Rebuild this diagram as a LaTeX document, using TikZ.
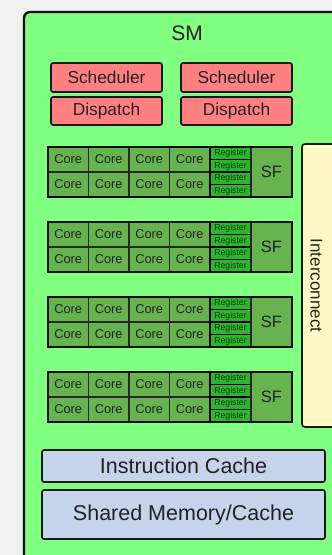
\documentclass[tikz,border=0pt]{standalone}
\usepackage{fontspec}
\setmainfont{Liberation Sans}
\definecolor{bg}{HTML}{F0F0F0}
\definecolor{smgreen}{HTML}{80FF80}
\definecolor{schedred}{HTML}{FF8080}
\definecolor{coregreen}{HTML}{66B34F}
\definecolor{reggreen}{HTML}{2DB52D}
\definecolor{regtext}{HTML}{0F3F0F}
\definecolor{cacheblue}{HTML}{C5D4EA}
\definecolor{icyellow}{HTML}{FFF8C4}
\definecolor{txt}{HTML}{222222}
\tikzset{
  redbox/.style={draw=black!90, line width=1.6pt, fill=schedred, rounded corners=2pt,
    minimum width=111pt, inner sep=0pt, text=txt, font=\fontsize{17.3}{20}\selectfont},
  core/.style={draw=black!85, line width=1.3pt, fill=coregreen, minimum width=40.5pt,
    minimum height=25pt, inner sep=0pt, text=txt, font=\fontsize{12.8}{14}\selectfont},
  reg/.style={draw=black, line width=1.6pt, fill=reggreen, minimum width=41pt,
    minimum height=12.5pt, inner sep=0pt, text=regtext, font=\fontsize{8.7}{9}\selectfont},
  sfbox/.style={draw=black!85, line width=1.3pt, fill=coregreen, minimum width=41pt,
    minimum height=50pt, inner sep=0pt, text=txt, font=\fontsize{16.5}{18}\selectfont},
  cache/.style={draw=black!90, line width=1.6pt, fill=cacheblue, rounded corners=2pt,
    minimum width=283pt, inner sep=0pt, text=txt, font=\fontsize{21.5}{24}\selectfont},
}
\begin{document}
\begin{tikzpicture}[x=1pt,y=-1pt]
\useasboundingbox (0,0) rectangle (332,555);
\fill[bg] (0,0) rectangle (332,555);
% SM container
\draw[line width=2.4pt, fill=smgreen, rounded corners=6pt, draw=black!95] (24,12) rectangle (350,575);
\node[text=txt, font=\fontsize{21}{24}\selectfont, inner sep=0pt] (smtitle) at (187,33) {SM};
% Schedulers and dispatch
\node[redbox, minimum height=29pt] (sch1) at (106.5,77.5) {Scheduler};
\node[redbox, minimum height=29pt] (sch2) at (236.5,77.5) {Scheduler};
\node[redbox, minimum height=28pt] (dis1) at (106.5,111) {Dispatch};
\node[redbox, minimum height=28pt] (dis2) at (236.5,111) {Dispatch};
% Interconnect
\draw[line width=1.6pt, draw=black!90, fill=icyellow, rounded corners=3pt] (302,144) rectangle (350,427);
\node[rotate=-90, text=txt, font=\fontsize{17}{20}\selectfont, inner sep=0pt] (ic) at (316.5,285.5) {Interconnect};
% Core groups
\foreach \g/\T in {1/147,2/222,3/297,4/372}{
  \foreach \c in {0,...,3}{
    \foreach \r in {0,1}{
      \node[core] (c\g-\r-\c) at ({68.25+40.5*\c},{\T+12.5+25*\r}) {Core};
    }
  }
  \foreach \k in {0,...,3}{
    \node[reg] (r\g-\k) at (230.5,{\T+6.25+12.5*\k}) {Register};
  }
  \node[sfbox] (sf\g) at (271.5,{\T+25}) {SF};
  \draw[line width=2.6pt, draw=black!95] (48,\T) rectangle (292,{\T+50});
}
% Caches
\node[cache, minimum height=32pt] (icache) at (183.5,466) {Instruction Cache};
\node[cache, minimum height=49pt] (smem) at (183.5,514.5) {Shared Memory/Cache};
\end{tikzpicture}
\end{document}
